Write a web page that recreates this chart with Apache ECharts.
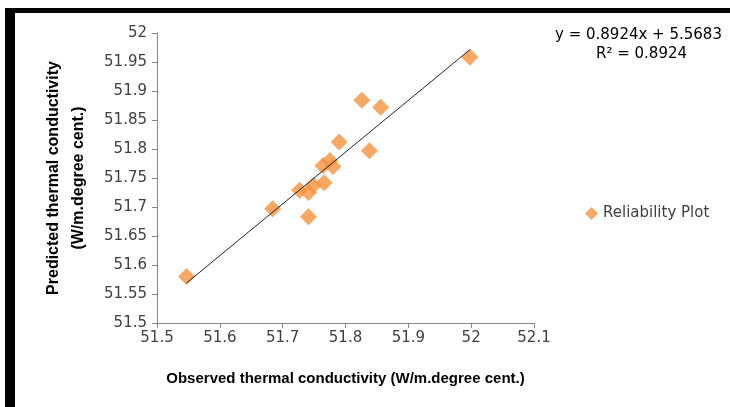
<!DOCTYPE html>
<html lang="en">
<head>
<meta charset="UTF-8">
<title>Reliability Plot</title>
<script src="https://cdn.jsdelivr.net/npm/echarts@6/dist/echarts.min.js"></script>
<style>
  html, body { margin: 0; padding: 0; background: #fff; }
  #main { width: 730px; height: 407px; }
</style>
</head>
<body>
<div id="main"></div>
<script type="text/javascript">
// observed vs predicted thermal conductivity
var observed  = [51.547, 51.684, 51.727, 51.741, 51.749, 51.741, 51.766, 51.764, 51.775, 51.780, 51.790, 51.826, 51.856, 51.838, 51.998];
var predicted = [51.580, 51.697, 51.729, 51.725, 51.737, 51.683, 51.742, 51.771, 51.780, 51.770, 51.812, 51.884, 51.872, 51.797, 51.958];
var slope = 0.8924;
var intercept = 5.5683;
var rSquared = 0.8924;

var xMin = 51.5, xMax = 52.1, xStep = 0.1;
var yMin = 51.5, yMax = 52, yStep = 0.05;

var points = observed.map(function (x, i) { return [x, predicted[i]]; });
var x0 = Math.min.apply(null, observed), x1 = Math.max.apply(null, observed);
var trend = [[x0, slope * x0 + intercept], [x1, slope * x1 + intercept]];

var myChart = echarts.init(document.getElementById('main'));
var axisColor = '#868686';
var labelColor = '#404040';
var font = 'DejaVu Sans';

var option = {
    backgroundColor: '#ffffff',
    animation: false,
    grid: { left: 157, right: 196, top: 33, bottom: 84 },
    legend: {
        data: [{ name: 'Reliability Plot', icon: 'diamond' }],
        left: 580, top: 201,
        itemWidth: 13, itemHeight: 13, itemGap: 6,
        textStyle: { fontFamily: font, fontSize: 15, color: labelColor }
    },
    xAxis: {
        type: 'value', min: xMin, max: xMax, interval: xStep,
        name: 'Observed thermal conductivity (W/m.degree cent.)',
        nameLocation: 'middle', nameGap: 48,
        nameTextStyle: { fontFamily: 'Liberation Sans', fontWeight: 'bold', fontSize: 15, color: '#000' },
        splitLine: { show: false },
        axisLine: { show: true, lineStyle: { color: axisColor } },
        axisTick: { show: true, length: 5, lineStyle: { color: axisColor } },
        axisLabel: {
            fontFamily: font, fontSize: 15, color: labelColor, margin: 8,
            formatter: function (v) { return +v.toFixed(2) + ''; }
        }
    },
    yAxis: {
        type: 'value', min: yMin, max: yMax, interval: yStep,
        name: 'Predicted thermal conductivity\n(W/m.degree cent.)',
        nameLocation: 'middle', nameGap: 66, nameRotate: 90,
        nameTextStyle: { fontFamily: 'Liberation Sans', fontWeight: 'bold', fontSize: 16, color: '#000', lineHeight: 25 },
        splitLine: { show: false },
        axisLine: { show: true, lineStyle: { color: axisColor } },
        axisTick: { show: true, length: 5, lineStyle: { color: axisColor } },
        axisLabel: {
            fontFamily: font, fontSize: 15, color: labelColor, margin: 10,
            formatter: function (v) { return +v.toFixed(2) + ''; }
        }
    },
    graphic: [
        { type: 'rect', left: 5, top: 8, shape: { width: 725, height: 5 }, style: { fill: '#000' } },
        { type: 'rect', left: 5, top: 8, shape: { width: 10, height: 399 }, style: { fill: '#000' } },
        {
            type: 'text', left: 555, top: 28,
            style: { text: 'y = ' + slope + 'x + ' + intercept, font: '15px "DejaVu Sans"', fill: '#000' }
        },
        {
            type: 'text', left: 596, top: 47,
            style: { text: 'R² = ' + rSquared, font: '15px "DejaVu Sans"', fill: '#000' }
        }
    ],
    series: [
        {
            name: 'Trend',
            type: 'line',
            data: trend,
            symbol: 'none',
            lineStyle: { color: '#222', width: 1 },
            silent: true,
            z: 3
        },
        {
            name: 'Reliability Plot',
            type: 'scatter',
            data: points,
            symbol: 'diamond',
            symbolSize: 17,
            itemStyle: { color: '#F5923E' },
            z: 2
        }
    ]
};
myChart.setOption(option);
</script>
</body>
</html>
